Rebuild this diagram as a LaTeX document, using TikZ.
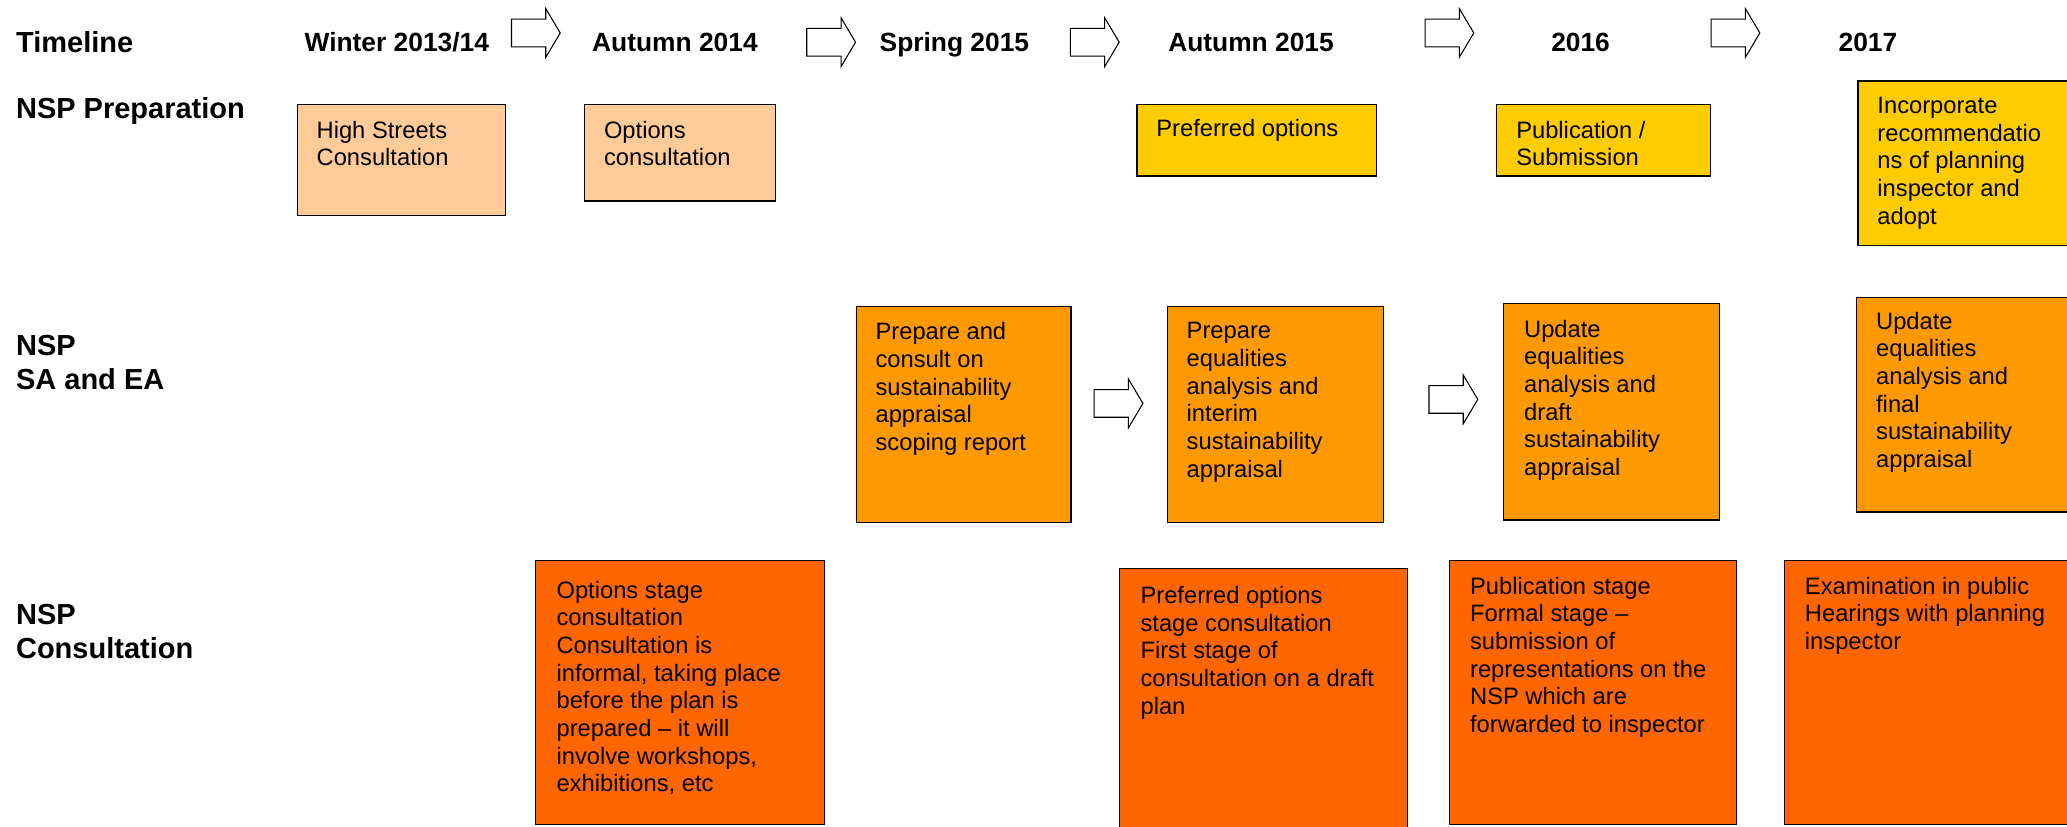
\documentclass[tikz,border=0pt]{standalone}
\usepackage{fontspec}
\setmainfont{Liberation Sans}
\definecolor{peach}{HTML}{FFCC99}
\definecolor{yell}{HTML}{FFCC00}
\definecolor{orng}{HTML}{FF9900}
\definecolor{dorng}{HTML}{FF6600}
\tikzset{
  boxbase/.style={draw=black, line width=0.9pt, inner sep=0pt, anchor=north west},
  txt/.style={anchor=north west, inner sep=0pt, align=left, font=\fontsize{18}{21}\selectfont},
  hdr/.style={anchor=base, inner sep=0pt, font=\fontsize{20}{24}\selectfont\bfseries},
  rowlbl/.style={anchor=north west, inner sep=0pt, align=left, font=\fontsize{22}{26}\selectfont\bfseries},
  blockarrow/.pic={\draw[fill=white, line width=0.8pt, line join=miter] (0,-10.5) -- (26,-10.5) -- (26,-18.5) -- (37,0) -- (26,18.5) -- (26,10.5) -- (0,10.5) -- cycle;}
}
\begin{document}
\begin{tikzpicture}[x=1pt,y=-1pt]
\useasboundingbox (0,0) rectangle (1568,627);
\clip (0,0) rectangle (1568,627);
\fill[white] (0,0) rectangle (1568,627);
% headers
\node[rowlbl, anchor=base west] (tl) at (12,40) {Timeline};
\node[hdr] (h1) at (301,39) {Winter 2013/14};
\node[hdr] (h2) at (512,39) {Autumn 2014};
\node[hdr] (h3) at (724,39) {Spring 2015};
\node[hdr] (h4) at (949,39) {Autumn 2015};
\node[hdr] (h5) at (1199,39) {2016};
\node[hdr] (h6) at (1417,39) {2017};
\node[rowlbl, anchor=base west] (rp) at (12,90) {NSP Preparation};
\node[rowlbl] (rs) at (12,254) {NSP\\SA and EA};
\node[rowlbl] (rc) at (12,458) {NSP\\Consultation};
% timeline arrows
\pic at (388,25) {blockarrow};
\pic at (612,32) {blockarrow};
\pic at (812,32) {blockarrow};
\pic at (1081,25) {blockarrow};
\pic at (1298,25) {blockarrow};
% row 1
\node[boxbase, fill=peach, minimum width=158pt, minimum height=84pt] (b1) at (225,79) {};
\node[boxbase, fill=peach, minimum width=145pt, minimum height=73pt] (b2) at (443,79) {};
\node[boxbase, fill=yell, minimum width=182pt, minimum height=54pt] (b3) at (862,79) {};
\node[boxbase, fill=yell, minimum width=162pt, minimum height=54pt] (b4) at (1135,79) {};
\node[boxbase, fill=yell, minimum width=180pt, minimum height=125pt] (b5) at (1409,61) {};
\node[txt] (t1) at (240,91.5) {High Streets\\Consultation};
\node[txt] (t2) at (458,91.5) {Options\\consultation};
\node[txt] (t3) at (877,90.5) {Preferred options};
\node[txt] (t4) at (1150,91.5) {Publication /\\Submission};
\node[txt] (t5) at (1424,73.5) {Incorporate\\recommendatio\\ns of planning\\inspector and\\adopt};
% row 2
\node[boxbase, fill=orng, minimum width=163pt, minimum height=164pt] (c1) at (649,232) {};
\node[boxbase, fill=orng, minimum width=164pt, minimum height=164pt] (c2) at (885,232) {};
\node[boxbase, fill=orng, minimum width=164pt, minimum height=164pt] (c3) at (1140,230) {};
\node[boxbase, fill=orng, minimum width=180pt, minimum height=163pt] (c4) at (1408,225) {};
\node[txt] (u1) at (664,244.5) {Prepare and\\consult on\\sustainability\\appraisal\\scoping report};
\node[txt] (u2) at (900,244.5) {Prepare\\equalities\\analysis and\\interim\\sustainability\\appraisal};
\node[txt] (u3) at (1156,242.5) {Update\\equalities\\analysis and\\draft\\sustainability\\appraisal};
\node[txt] (u4) at (1423,236.5) {Update\\equalities\\analysis and\\final\\sustainability\\appraisal};
\pic at (830,306) {blockarrow};
\pic at (1084,303) {blockarrow};
% row 3
\node[boxbase, fill=dorng, minimum width=219pt, minimum height=200pt] (d1) at (406,425) {};
\node[boxbase, fill=dorng, minimum width=218pt, minimum height=215pt] (d2) at (849,431) {};
\node[boxbase, fill=dorng, minimum width=218pt, minimum height=200pt] (d3) at (1099,425) {};
\node[boxbase, fill=dorng, minimum width=230pt, minimum height=200pt] (d4) at (1353,425) {};
\node[txt] (v1) at (422,440.5) {Options stage\\consultation\\Consultation is\\informal, taking place\\before the plan is\\prepared -- it will\\involve workshops,\\exhibitions, etc};
\node[txt] (v2) at (865,444.5) {Preferred options\\stage consultation\\First stage of\\consultation on a draft\\plan};
\node[txt] (v3) at (1115,437.5) {Publication stage\\Formal stage --\\submission of\\representations on the\\NSP which are\\forwarded to inspector};
\node[txt] (v4) at (1369,437.5) {Examination in public\\Hearings with planning\\inspector};
\end{tikzpicture}
\end{document}
